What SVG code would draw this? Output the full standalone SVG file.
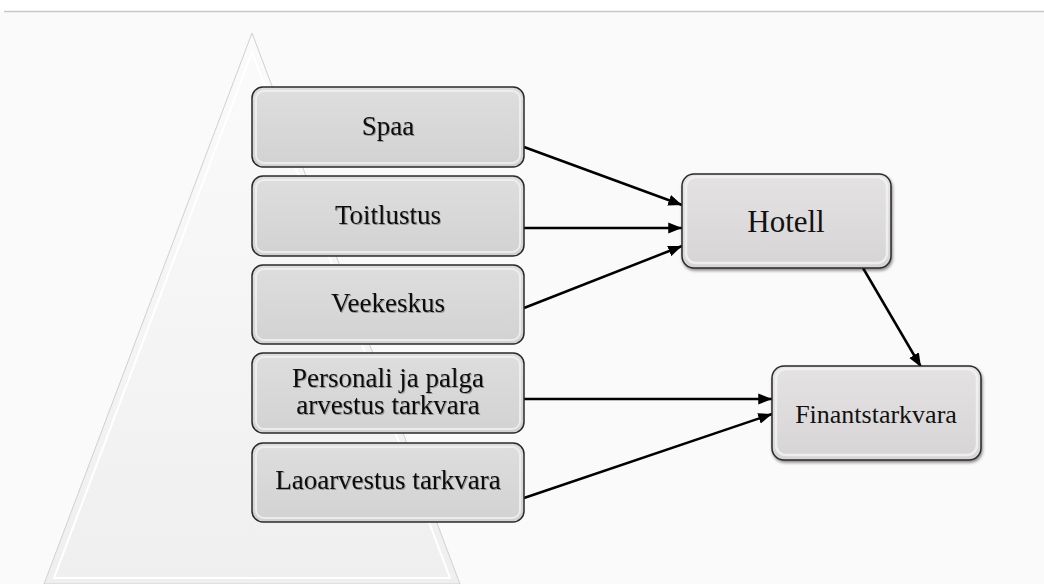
<svg xmlns="http://www.w3.org/2000/svg" width="1044" height="584" viewBox="0 0 1044 584">
<defs>
<style>
.box{fill:url(#gb);stroke:#2a2a2a;stroke-width:1.5}
.hl{fill:none;stroke:#f2f2f2;stroke-width:2;opacity:0.8}
.t{font-family:"Liberation Serif","Times New Roman",serif;fill:#111;text-anchor:middle}
.c{stroke:#000;stroke-width:2.5;fill:none;marker-end:url(#ah)}
</style>
<linearGradient id="gb" x1="0" y1="0" x2="0" y2="1">
<stop offset="0" stop-color="#dedede"/>
<stop offset="1" stop-color="#d2d2d2"/>
</linearGradient>
<linearGradient id="gh" x1="0" y1="0" x2="0" y2="1">
<stop offset="0" stop-color="#e4e2e2"/>
<stop offset="1" stop-color="#d6d4d4"/>
</linearGradient>
<linearGradient id="gt" x1="0" y1="0" x2="0" y2="1">
<stop offset="0" stop-color="#fbfbfb"/>
<stop offset="1" stop-color="#efefef"/>
</linearGradient>
<marker id="ah" viewBox="0 0 10 10" refX="10" refY="5" markerWidth="5.5" markerHeight="5.5" orient="auto" markerUnits="strokeWidth">
<path d="M0,1 L10,5 L0,9 z" fill="#000"/>
</marker>
<filter id="sh" x="-10%" y="-10%" width="120%" height="130%">
<feDropShadow dx="1" dy="2" stdDeviation="1.5" flood-color="#000" flood-opacity="0.45"/>
</filter>
<filter id="ts" x="-5%" y="-20%" width="110%" height="140%">
<feDropShadow dx="1" dy="1" stdDeviation="0.6" flood-color="#000" flood-opacity="0.3"/>
</filter>
</defs>
<rect x="0" y="0" width="1044" height="584" fill="#fff"/>
<rect x="0" y="12" width="1044" height="572" fill="#fafafa"/>
<line x1="4" y1="11.5" x2="1044" y2="11.5" stroke="#c8c8c8" stroke-width="1.5"/>
<g id="pyramid">
<path d="M252,33 L460,584 L44,584 Z" fill="url(#gt)" stroke="#d0d0d0" stroke-width="1"/>
<path d="M252,52 L450,578 L54,578 Z" fill="none" stroke="#ffffff" stroke-width="2"/>
</g>
<g id="connectors">
<line class="c" x1="524" y1="147" x2="682" y2="205"/>
<line class="c" x1="524" y1="228" x2="682" y2="228"/>
<line class="c" x1="524" y1="308" x2="682" y2="246"/>
<line class="c" x1="863" y1="268" x2="921" y2="367"/>
<line class="c" x1="524" y1="399" x2="772" y2="399"/>
<line class="c" x1="524" y1="498" x2="772" y2="414"/>
</g>
<g id="spaa">
<rect class="box" x="252" y="87" width="272" height="80" rx="11"/>
<rect class="hl" x="256" y="91" width="264" height="72" rx="8"/>
<text class="t" x="388" y="135" font-size="27" filter="url(#ts)">Spaa</text>
</g>
<g id="toitlustus">
<rect class="box" x="252" y="176" width="272" height="80" rx="11"/>
<rect class="hl" x="256" y="180" width="264" height="72" rx="8"/>
<text class="t" x="388" y="224" font-size="27" filter="url(#ts)">Toitlustus</text>
</g>
<g id="veekeskus">
<rect class="box" x="252" y="265" width="272" height="79" rx="11"/>
<rect class="hl" x="256" y="269" width="264" height="71" rx="8"/>
<text class="t" x="388" y="312" font-size="27" filter="url(#ts)">Veekeskus</text>
</g>
<g id="personal">
<rect class="box" x="252" y="353" width="272" height="80" rx="11"/>
<rect class="hl" x="256" y="357" width="264" height="72" rx="8"/>
<text class="t" x="388" y="387" font-size="27" filter="url(#ts)">Personali ja palga</text>
<text class="t" x="388" y="414" font-size="27" filter="url(#ts)">arvestus tarkvara</text>
</g>
<g id="laoarvestus">
<rect class="box" x="252" y="443" width="272" height="79" rx="11"/>
<rect class="hl" x="256" y="447" width="264" height="71" rx="8"/>
<text class="t" x="388" y="489" font-size="27" filter="url(#ts)">Laoarvestus tarkvara</text>
</g>
<g id="hotell">
<rect x="682" y="174" width="209" height="94" rx="12" fill="url(#gh)" stroke="#2a2a2a" stroke-width="1.5" filter="url(#sh)"/>
<rect x="686" y="177" width="201" height="86" rx="10" fill="none" stroke="#f4f4f4" stroke-width="2.5" opacity="0.8"/>
<text class="t" x="786" y="232" font-size="31">Hotell</text>
</g>
<g id="finant">
<rect x="772" y="366" width="209" height="94" rx="12" fill="url(#gh)" stroke="#2a2a2a" stroke-width="1.5" filter="url(#sh)"/>
<rect x="776" y="369" width="201" height="86" rx="10" fill="none" stroke="#f4f4f4" stroke-width="2.5" opacity="0.8"/>
<text class="t" x="876" y="423" font-size="26">Finantstarkvara</text>
</g>
</svg>
